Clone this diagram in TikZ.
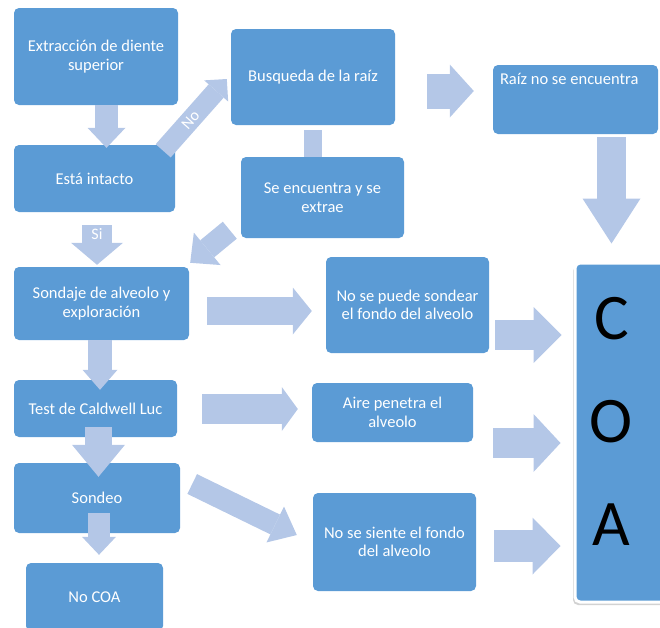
\documentclass[tikz,border=0pt]{standalone}
\usepackage{fontspec}
\setmainfont{Carlito}
\usetikzlibrary{arrows.meta, calc, shadows}
\definecolor{boxblue}{RGB}{91,155,213}
\definecolor{arrowblue}{RGB}{180,199,231}
\pgfdeclarelayer{edgelayer}
\pgfdeclarelayer{nodelayer}
\pgfsetlayers{nodelayer,edgelayer,main}
\tikzstyle{box}=[rectangle, rounded corners=5pt, fill=boxblue, text=white, align=center, inner sep=0pt, font=\fontsize{16.5}{18.5}\selectfont]
\tikzstyle{arrowtext}=[text=white, inner sep=0pt, font=\fontsize{16}{18}\selectfont]
\tikzstyle{coatext}=[text=black, align=center, inner sep=0pt, font=\fontsize{65}{103}\selectfont]
\tikzset{fat/.style n args={3}{draw=arrowblue, line cap=butt, line width=#1, -{Triangle[length=#2, width=#3, line width=0pt]}}}

\begin{document}
\begin{tikzpicture}[x=1pt, y=-1pt]
						\useasboundingbox (0, 0) rectangle (660, 627);
						\begin{pgfonlayer}{nodelayer}
							\node [style=box, minimum width=164pt, minimum height=97pt] (extrac) at (96, 56.5) {Extracción de diente\\superior};
							\node [style=box, minimum width=161pt, minimum height=67pt] (intacto) at (94.5, 178.5) {Está intacto};
							\node [style=box, minimum width=164pt, minimum height=96pt] (busq) at (313, 77) {Busqueda de la raíz};
							\node [style=box, minimum width=163pt, minimum height=81pt] (encuentra) at (322.5, 197.5) {Se encuentra y se\\extrae};
							\node [style=box, minimum width=165pt, minimum height=69pt, label={[style=box, fill=none, anchor=north west, inner xsep=7pt, inner ysep=8pt]north west:Raíz no se encuentra}] (noencuentra) at (575.5, 99.5) {};
							\node [style=box, minimum width=175pt, minimum height=73pt] (sondaje) at (101.5, 303.5) {Sondaje de alveolo y\\exploración};
							\node [style=box, minimum width=163pt, minimum height=96pt] (nosondear) at (407.5, 305) {No se puede sondear\\el fondo del alveolo};
							\node [style=box, minimum width=163pt, minimum height=57pt] (caldwell) at (95.5, 408.5) {Test de Caldwell Luc};
							\node [style=box, minimum width=161pt, minimum height=59pt] (aire) at (392.5, 412.5) {Aire penetra el\\alveolo};
							\node [style=box, minimum width=166pt, minimum height=70pt] (sondeo) at (97, 498) {Sondeo};
							\node [style=box, minimum width=163pt, minimum height=98pt] (nosiente) at (394.5, 542) {No se siente el fondo\\del alveolo};
							\node [style=box, minimum width=137pt, minimum height=68pt] (nocoa) at (94.5, 597) {No COA};
							\node [style=box, minimum width=93pt, minimum height=339pt, draw=white, line width=3pt, drop shadow={shadow xshift=-2pt, shadow yshift=-3pt, fill=black!35}, label={[style=coatext, xshift=-10pt, yshift=11pt]center:{C\\O\\A}}] (coa) at (621.5, 432.5) {};
						\end{pgfonlayer}
						\begin{pgfonlayer}{edgelayer}
							\draw [fat={23pt}{20pt}{38pt}] ($(extrac.south)+(10.5,0)$) to ($(intacto.north)+(12,3)$);
							\draw [fat={20pt}{16pt}{32pt}] ($(intacto.north east)+(-12,6)$) to node [style=arrowtext, pos=0.43, sloped] {No} ($(busq.west)+(-4,2)$);
							\draw [draw=arrowblue, line width=18pt] ($(busq.south)+(0,5)$) to ($(encuentra.north)+(-9.5,0)$);
							\draw [fat={35pt}{24pt}{53pt}] ($(busq.east)+(32,14)$) to ($(noencuentra.west)+(-19,-8.5)$);
							\draw [fat={29pt}{45pt}{58pt}] ($(noencuentra.south)+(36,3)$) to ($(coa.north)+(-10,-18)$);
							\draw [fat={30pt}{22pt}{52pt}] ($(intacto.south)+(2.5,13)$) to node [style=arrowtext, pos=0.22] {Si} ($(sondaje.north)+(-4.5,-2)$);
							\draw [fat={22pt}{22pt}{42pt}] ($(encuentra.south west)+(-11,-8)$) to ($(sondaje.north east)+(1,-4)$);
							\draw [fat={28pt}{19pt}{47pt}] ($(sondaje.east)+(18,7.5)$) to ($(nosondear.west)+(-14,6)$);
							\draw [fat={24pt}{20pt}{35pt}] ($(sondaje.south)+(-1.5,0)$) to ($(caldwell.north)+(4.5,10)$);
							\draw [fat={30pt}{16pt}{44pt}] ($(caldwell.east)+(25,0.5)$) to ($(aire.west)+(-14,-3.5)$);
							\draw [fat={27pt}{32pt}{53pt}] ($(caldwell.south)+(3,-10)$) to ($(sondeo.north)+(1.5,14)$);
							\draw [fat={22pt}{24pt}{40pt}] ($(sondeo.east)+(12,-14)$) to ($(nosiente.west)+(-16,-7)$);
							\draw [fat={22pt}{18pt}{34pt}] ($(sondeo.south)+(2,-20)$) to ($(nocoa.north)+(4.5,-8)$);
							\draw [fat={30pt}{28pt}{56pt}] ($(nosondear.east)+(6,30)$) to ($(coa.west)+(-12,-97.5)$);
							\draw [fat={30pt}{27pt}{58pt}] ($(aire.east)+(20,30.5)$) to ($(coa.west)+(-13,10.5)$);
							\draw [fat={32pt}{28pt}{57pt}] ($(nosiente.east)+(18,4)$) to ($(coa.west)+(-13,113.5)$);
						\end{pgfonlayer}
					\end{tikzpicture}
\end{document}
